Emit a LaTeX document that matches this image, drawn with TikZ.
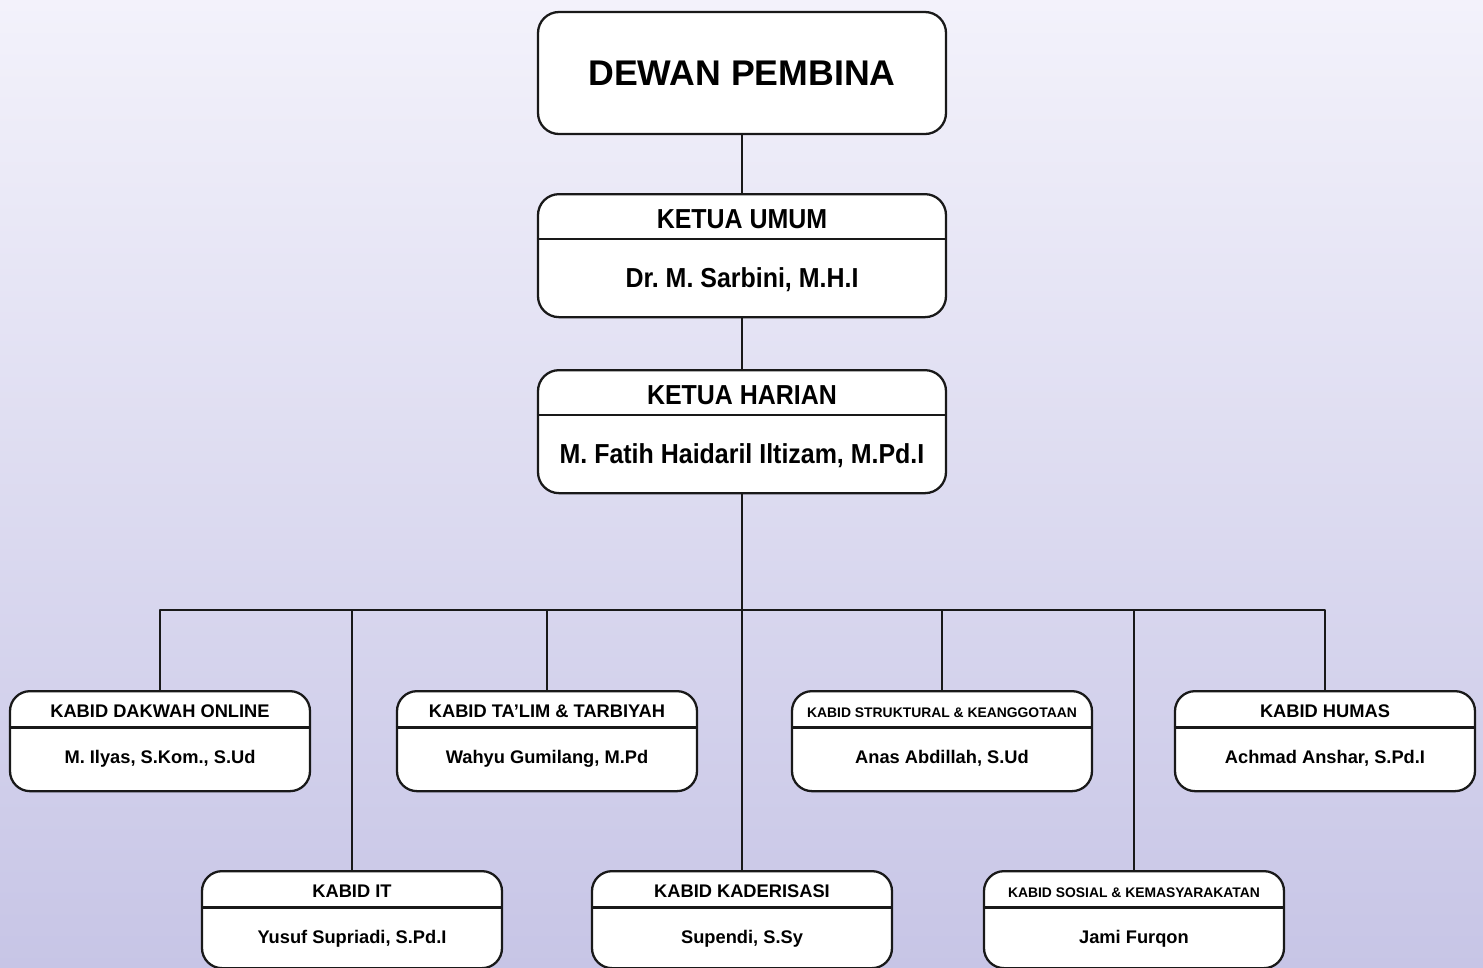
\documentclass[tikz,border=0pt]{standalone}
\usepackage{fontspec}
\setmainfont{Liberation Sans}
\usepackage{tikz}
\usetikzlibrary{shapes,backgrounds}
\usepackage{xcolor}
\frenchspacing

\definecolor{bgtop}{RGB}{243,242,251}
\definecolor{bgbottom}{RGB}{199,197,230}
\definecolor{edgegray}{RGB}{25,25,25}

\newcommand{\smallcap}{\fontsize{7.9}{9}\selectfont}

% box with a title part and a person part
\newcommand{\chiefunit}[4]{%
  \node[chief](#1) at (#2) {};
  \draw[split] ([yshift=-0.92cm]#1.north west) -- ([yshift=-0.92cm]#1.north east);
  \node[chieftext](#1-head) at ([yshift=-0.70cm]#1.north) {\scalebox{1}[1.1]{#3}};
  \node[chieftext](#1-name) at ([yshift=-1.88cm]#1.north) {\scalebox{1}[1.1]{#4}};
}
\newcommand{\kabidunit}[5]{%
  \node[kabid,#2](#1) at (#3) {};
  \draw[split] ([yshift=-0.75cm]#1.north west) -- ([yshift=-0.75cm]#1.north east);
  \node[kabidtext](#1-head) at ([yshift=-0.54cm]#1.north) {#4};
  \node[kabidtext](#1-name) at ([yshift=-1.46cm]#1.north) {#5};
}

\begin{document}
\begin{tikzpicture}[line join=round]
    \tikzstyle{board}=[rectangle,draw=edgegray,line width=1.3pt,fill=white,rounded corners=0.42cm,minimum width=8.16cm,minimum height=2.44cm,font=\fontsize{20.3}{24}\selectfont\bfseries]
    \tikzstyle{chief}=[rectangle,draw=edgegray,line width=1.3pt,fill=white,rounded corners=0.42cm,minimum width=8.16cm,minimum height=2.46cm,anchor=north]
    \tikzstyle{kabid}=[chief,minimum width=6cm,minimum height=2cm,rounded corners=0.4cm]
    \tikzstyle{chieftext}=[anchor=base,inner sep=0pt,font=\fontsize{14.2}{17}\selectfont\bfseries]
    \tikzstyle{kabidtext}=[anchor=base,inner sep=0pt,font=\fontsize{10.4}{12.5}\selectfont\bfseries]
    \tikzstyle{split}=[draw=edgegray,line width=1.3pt]
    \tikzstyle{link}=[draw=edgegray,line width=1.1pt]

    % background
    \fill[top color=bgtop,bottom color=bgbottom] (0,0) rectangle (29.66,-19.36);
    \useasboundingbox (0,0) rectangle (29.66,-19.36);

    % top of the chart
    \node[board](pembina) at (14.84,-1.46) {DEWAN PEMBINA};
    \chiefunit{ketum}{14.84,-3.86}{KETUA UMUM}{Dr. M. Sarbini, M.H.I}
    \chiefunit{harian}{14.84,-7.38}{KETUA HARIAN}{M. Fatih Haidaril Iltizam, M.Pd.I}

    % first row of kabid
    \kabidunit{dakwah}{}{3.2,-13.8}{KABID DAKWAH ONLINE}{M. Ilyas, S.Kom., S.Ud}
    \kabidunit{talim}{}{10.94,-13.8}{KABID TA’LIM \& TARBIYAH}{Wahyu Gumilang, M.Pd}
    \kabidunit{struktur}{}{18.84,-13.8}{\smallcap KABID STRUKTURAL \& KEANGGOTAAN}{Anas Abdillah, S.Ud}
    \kabidunit{humas}{}{26.5,-13.8}{KABID HUMAS}{Achmad Anshar, S.Pd.I}

    % second row of kabid
    \kabidunit{it}{minimum height=1.94cm}{7.04,-17.4}{KABID IT}{Yusuf Supriadi, S.Pd.I}
    \kabidunit{kader}{minimum height=1.94cm}{14.84,-17.4}{KABID KADERISASI}{Supendi, S.Sy}
    \kabidunit{sosial}{minimum height=1.94cm}{22.68,-17.4}{\smallcap KABID SOSIAL \& KEMASYARAKATAN}{Jami Furqon}

    % lines
    \coordinate (bus) at (14.84,-12.2);
    \draw[link] (pembina) -- (ketum);
    \draw[link] (ketum) -- (harian);
    \draw[link] (harian) -- (kader);
    \foreach \b in {dakwah,it,talim,struktur,sosial,humas}
      \draw[link] (\b.north) |- (bus);
\end{tikzpicture}
\end{document}
